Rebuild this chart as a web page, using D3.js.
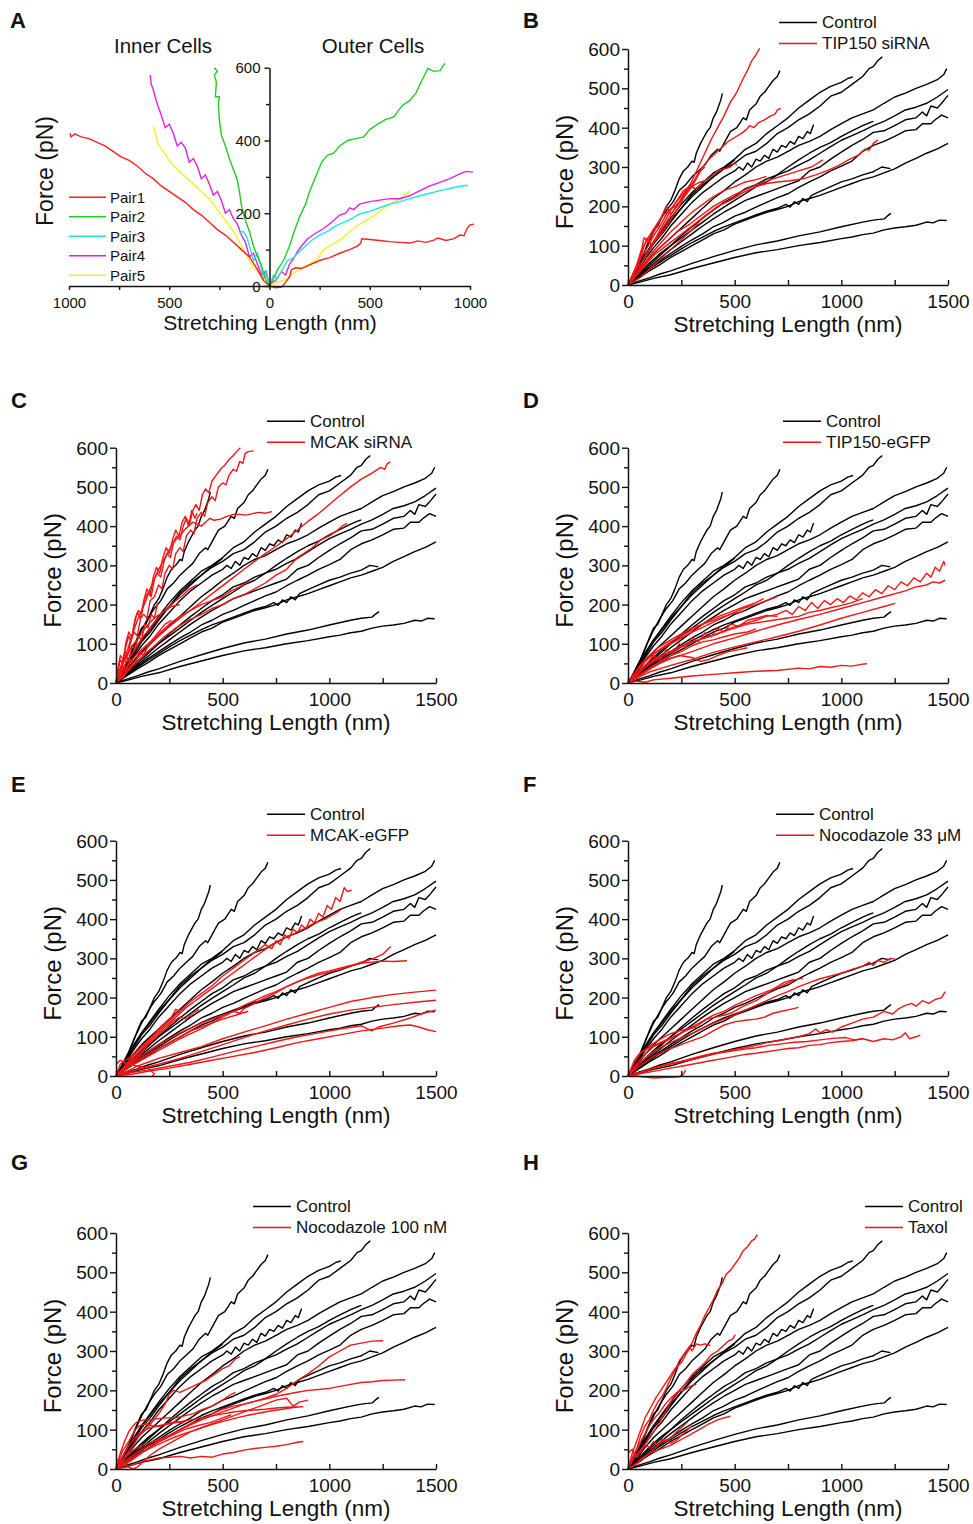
<!DOCTYPE html>
<html><head><meta charset="utf-8">
<script src="https://cdn.jsdelivr.net/npm/d3@7"></script>
<style>
body{margin:0;background:#fff}
svg{display:block}
text{font-family:"Liberation Sans",Arial,Helvetica,sans-serif;fill:#111}
</style>
</head><body>
<svg id="fig" width="973" height="1524"></svg>
<script>
// ---------------- DATA ----------------
const xTickLabels = [0, 500, 1000, 1500];
const xMinorTicks = [250, 750, 1250];
const yTickLabels = [0, 100, 200, 300, 400, 500, 600];
const yMinorTicks = [50, 150, 250, 350, 450, 550];
const aXTicks = [-1000, -500, 0, 500, 1000];
const aXMinor = [-750, -250, 250, 750];
const aYTicks = [0, 200, 400, 600];
const aYMinor = [100, 300, 500];
const pairNames = ["Pair1", "Pair2", "Pair3", "Pair4", "Pair5"];
const treatmentNames = ["TIP150 siRNA", "MCAK siRNA", "TIP150-eGFP", "MCAK-eGFP", "Nocodazole 33 μM", "Nocodazole 100 nM", "Taxol"];

// Panel A: outer cells (right) and inner cells (left), [nm, pN]
const outerPair1 = [[0,0],[30,-5],[60,-3],[80,10],[100,25],[110,45],[130,50],[160,48],[200,58],[250,70],[300,78],[350,90],[400,100],[440,110],[455,118],[460,130],[500,128],[550,125],[600,122],[650,120],[700,118],[740,124],[780,120],[820,126],[840,132],[880,125],[920,130],[950,140],[970,138],[985,158],[1000,168],[1020,170]];
const outerPair2 = [[0,0],[20,20],[40,45],[70,70],[100,110],[120,145],[150,190],[180,225],[200,260],[230,300],[260,340],[290,360],[320,365],[350,385],[390,400],[430,405],[470,410],[500,430],[540,445],[580,458],[620,465],[660,495],[700,510],[730,530],[760,565],[790,598],[820,590],[850,592],[875,612]];
const outerPair3 = [[0,0],[20,30],[40,20],[60,40],[90,70],[120,78],[150,95],[180,110],[210,125],[250,140],[290,150],[330,165],[370,175],[410,185],[450,198],[500,205],[550,215],[600,225],[650,232],[700,240],[750,248],[800,255],[850,262],[900,268],[950,274],[990,277]];
const outerPair4 = [[0,5],[30,15],[60,40],[80,30],[100,60],[120,75],[140,95],[160,110],[190,130],[230,145],[270,158],[310,175],[350,195],[380,200],[400,215],[420,210],[450,225],[500,232],[550,236],[600,240],[650,240],[700,248],[750,262],[800,275],[850,285],[900,295],[950,308],[980,315],[1015,313]];
const outerPair5 = [[0,0],[40,10],[80,18],[120,35],[160,50],[200,60],[240,75],[270,100],[300,110],[330,120],[360,130],[400,150],[450,170],[500,185],[550,205],[600,225],[650,240],[700,260]];
const innerPair1 = [[0,0],[30,15],[60,45],[100,80],[140,100],[180,120],[220,140],[260,155],[300,175],[340,195],[380,210],[420,230],[460,245],[500,260],[540,275],[580,295],[620,310],[660,330],[700,345],[740,355],[780,370],[820,385],[860,395],[900,405],[940,410],[970,418],[990,410],[995,420]];
const innerPair2 = [[0,0],[20,20],[40,55],[60,80],[80,110],[100,150],[120,180],[140,220],[150,260],[160,290],[180,320],[200,350],[220,385],[240,415],[250,455],[255,500],[250,520],[270,520],[265,560],[275,580],[260,590],[275,600]];
const innerPair3 = [[0,0],[15,40],[30,20],[45,60],[60,90],[80,70],[100,110],[110,130],[130,150],[150,145]];
const innerPair4 = [[0,5],[20,40],[40,30],[60,60],[80,90],[100,80],[120,120],[140,140],[160,170],[180,185],[200,210],[220,200],[240,235],[260,260],[280,250],[300,280],[320,305],[340,295],[360,330],[380,350],[400,340],[420,380],[440,395],[460,385],[480,420],[500,445],[520,435],[540,470],[560,500],[570,520],[580,540],[590,555],[595,580]];
const innerPair5 = [[0,0],[20,20],[50,35],[80,50],[110,80],[140,110],[180,150],[220,180],[260,210],[300,240],[340,260],[380,280],[420,300],[460,320],[500,345],[530,370],[555,390],[570,420],[578,438]];

// Control curves (shared by panels B-H)
const ctrl1 = [[0,0],[20,15],[40,40],[60,62],[85,95],[100,115],[120,140],[140,150],[160,175],[180,200],[200,215],[220,240],[240,270],[260,290],[280,300],[300,315],[310,312],[320,335],[340,360],[355,375],[370,390],[385,400],[400,425],[415,440],[425,455],[435,470],[442,487]];
const ctrl2 = [[0,0],[30,25],[60,60],[90,100],[120,135],[150,165],[180,190],[210,210],[240,240],[270,255],[300,275],[330,290],[360,305],[390,330],[420,345],[430,340],[450,360],[480,390],[510,400],[540,425],[555,420],[570,445],[600,460],[620,480],[640,490],[660,505],[680,520],[700,530],[712,545]];
const ctrl3 = [[0,0],[40,30],[80,70],[120,105],[160,130],[200,160],[250,195],[300,225],[350,250],[400,275],[450,295],[500,310],[550,330],[600,340],[650,360],[700,385],[750,400],[800,420],[850,435],[900,455],[950,480],[1000,490],[1050,510],[1100,530],[1130,550],[1150,555],[1170,570],[1192,580]];
const ctrl4 = [[0,0],[40,35],[80,75],[120,110],[160,140],[200,170],[250,205],[300,235],[350,260],[400,285],[450,300],[500,320],[550,345],[600,360],[650,385],[700,405],[750,425],[800,450],[850,470],[900,490],[950,505],[1000,515],[1030,525],[1055,529]];
const ctrl5 = [[0,0],[40,30],[80,65],[120,95],[160,120],[200,150],[250,180],[300,210],[350,235],[400,255],[450,275],[500,290],[520,300],[540,292],[560,310],[580,300],[600,320],[620,315],[640,330],[660,322],[680,345],[700,338],[720,355],[740,350],[760,365],[780,358],[800,378],[820,372],[840,390],[855,385],[870,408]];
const ctrl6 = [[0,0],[40,25],[80,55],[120,80],[160,100],[200,120],[250,145],[300,170],[350,195],[400,220],[450,240],[500,262],[550,280],[600,300],[650,315],[700,325],[750,340],[800,355],[850,365],[900,378],[950,395],[1000,410],[1050,425],[1100,435],[1150,445],[1200,462],[1250,478],[1300,488],[1350,500],[1400,510],[1450,522],[1480,535],[1494,550]];
const ctrl7 = [[0,0],[50,25],[100,50],[150,75],[200,100],[250,125],[300,148],[350,170],[400,190],[450,210],[500,225],[550,245],[600,255],[650,270],[700,280],[750,290],[800,305],[850,318],[900,335],[950,352],[1000,368],[1050,380],[1100,392],[1150,405],[1200,416],[1250,430],[1300,445],[1350,452],[1400,462],[1450,478],[1500,497]];
const ctrl8 = [[0,0],[50,22],[100,45],[150,68],[200,90],[250,110],[300,130],[350,150],[400,168],[450,185],[500,200],[550,215],[600,225],[650,235],[700,245],[750,255],[800,265],[850,290],[900,300],[950,320],[1000,338],[1050,355],[1100,370],[1150,388],[1200,392],[1250,405],[1300,420],[1350,425],[1380,440],[1400,430],[1420,455],[1450,450],[1470,462],[1500,482]];
const ctrl9 = [[0,0],[50,20],[100,42],[150,62],[200,80],[250,98],[300,115],[350,130],[400,148],[450,160],[500,175],[550,185],[600,198],[650,210],[700,222],[750,232],[800,248],[850,262],[900,275],[950,290],[1000,302],[1050,315],[1100,340],[1150,355],[1200,365],[1250,378],[1300,392],[1350,395],[1380,410],[1420,410],[1440,420],[1470,432],[1500,425]];
const ctrl10 = [[0,0],[50,18],[100,36],[150,52],[200,70],[250,85],[300,100],[350,115],[400,130],[450,140],[500,155],[550,165],[600,175],[650,185],[700,192],[750,200],[800,212],[850,220],[900,228],[950,238],[1000,248],[1050,258],[1100,268],[1150,275],[1200,285],[1250,295],[1300,310],[1350,322],[1400,335],[1450,346],[1500,360]];
const ctrl11 = [[0,0],[50,20],[100,40],[150,58],[200,75],[250,92],[300,108],[350,122],[400,136],[450,148],[500,158],[550,168],[600,178],[650,188],[700,195],[740,205],[760,198],[780,212],[800,205],[820,220],[840,212],[860,228],[900,238],[950,250],[1000,262],[1050,270],[1100,280],[1150,288],[1190,300],[1230,296]];
const ctrl12 = [[0,0],[50,10],[100,18],[150,28],[200,36],[300,55],[400,72],[500,88],[600,102],[700,112],[800,125],[900,135],[1000,148],[1100,160],[1150,165],[1200,168],[1215,175],[1233,182]];
const ctrl13 = [[0,0],[60,8],[120,17],[200,26],[300,42],[400,56],[500,70],[600,82],[700,90],[800,100],[900,108],[1000,118],[1050,122],[1100,128],[1150,132],[1200,140],[1250,145],[1300,148],[1350,152],[1400,160],[1430,158],[1460,165],[1494,164]];
const ctrl14 = [[0,0],[30,30],[60,60],[90,85],[120,110],[150,130],[200,165],[250,195],[300,230],[350,255],[400,275],[450,298],[470,305],[500,318]];
const ctrl15 = [[0,0],[50,28],[100,55],[150,80],[200,100],[250,120],[300,140],[350,160],[400,180],[450,198],[500,215],[550,232],[600,250],[650,262],[700,280],[750,300],[800,318],[850,335],[900,350],[950,362],[1000,378],[1050,392],[1100,405],[1130,412],[1150,416]];

// Treatment curves
const redB = [
 [[0,0],[20,15],[40,25],[60,50],[90,80],[120,110],[150,125],[180,150],[210,175],[240,200],[270,230],[300,265],[330,300],[360,335],[390,370],[420,400],[450,430],[480,465],[510,490],[540,525],[560,545],[580,570],[600,585],[617,602]],
 [[0,0],[30,30],[60,55],[100,90],[140,125],[180,160],[220,195],[260,225],[290,250],[310,265],[330,285],[350,300],[380,320],[410,335],[440,350],[470,365],[500,375],[530,385],[555,395],[570,405],[590,400],[610,412],[640,420],[670,430],[690,435],[700,445],[716,449]],
 [[0,0],[30,35],[60,70],[90,95],[120,125],[150,150],[180,180],[210,200],[240,220],[270,240],[300,250],[330,260],[360,265],[390,275],[420,290],[450,295],[480,300],[500,310],[510,305]],
 [[0,0],[40,25],[80,50],[120,75],[180,100],[240,125],[300,150],[360,175],[420,200],[480,215],[540,235],[600,250],[650,258],[700,262],[760,265],[820,270],[880,280],[940,292],[990,305],[1040,320],[1080,330],[1110,345],[1130,343],[1150,360],[1172,369]],
 [[0,0],[40,30],[80,55],[130,85],[180,110],[230,135],[290,155],[350,180],[400,200],[450,215],[500,230],[560,245],[620,258],[680,270],[740,280],[800,290],[860,300],[914,318]],
 [[0,0],[30,20],[70,50],[110,80],[150,105],[200,135],[250,160],[300,185],[350,205],[400,225],[450,240],[500,250],[550,262],[600,268],[648,276]],
 [[0,0],[25,30],[50,55],[70,90],[90,120],[110,100],[140,130],[170,160],[200,190],[230,215],[260,240],[290,250],[320,245],[350,260]],
 [[0,0],[20,20],[45,45],[60,80],[75,120],[95,110],[120,135],[150,165],[180,200],[200,180],[230,200],[260,230],[290,255],[310,245]],
 [[0,0],[30,10],[60,20],[100,40],[150,65],[200,90],[250,115],[300,140],[340,165],[370,180]],
 [[0,0],[20,25],[40,50],[60,85],[80,105],[100,125],[130,150],[160,175],[190,190],[220,200],[250,215],[280,235],[310,260],[340,290],[360,300]]
];
const redC = [
 [[0,0],[15,30],[30,55],[45,80],[55,70],[70,110],[85,130],[100,120],[115,165],[130,175],[145,165],[160,210],[180,220],[200,250],[215,240],[230,280],[250,300],[265,290],[280,330],[300,345],[315,335],[330,375],[350,390],[365,380],[380,420],[400,435],[415,425],[430,460],[450,475],[465,465],[480,500],[500,510],[515,505],[530,530],[550,545],[565,540],[580,565],[595,560],[605,585],[620,590],[645,592]],
 [[0,0],[10,40],[20,70],[35,60],[45,100],[60,130],[75,115],[90,165],[105,185],[120,175],[135,215],[150,230],[165,220],[180,265],[195,280],[210,270],[225,310],[240,330],[255,320],[270,360],[285,375],[300,365],[315,400],[330,420],[345,405],[360,440],[375,455],[390,440],[405,480],[420,495],[435,485],[450,515],[470,530],[490,545],[510,555],[530,570],[550,580],[565,590],[583,600]],
 [[0,0],[10,30],[20,60],[30,50],[45,90],[60,120],[70,105],[85,150],[100,180],[115,165],[130,210],[145,240],[160,225],[175,270],[190,295],[205,280],[220,320],[235,345],[250,330],[265,365],[280,390],[295,375],[310,410],[325,425],[340,400],[355,440],[370,420],[380,433]],
 [[0,0],[20,30],[40,60],[60,95],[80,130],[100,160],[120,185],[140,210],[160,240],[180,265],[200,290],[220,310],[240,330],[260,350],[280,365],[300,375],[320,390],[340,400],[360,410],[380,405],[400,400],[420,410],[440,420],[460,415],[490,418],[520,425],[550,430],[580,430],[610,428],[640,432],[670,435],[700,433],[731,437]],
 [[0,0],[40,25],[80,50],[130,80],[180,110],[240,140],[300,165],[360,190],[420,215],[480,240],[540,265],[600,290],[650,310],[700,330],[750,348],[800,368],[850,390],[900,412],[950,432],[1000,455],[1050,478],[1100,500],[1150,520],[1200,535],[1240,550],[1260,545],[1270,558],[1286,564]],
 [[0,0],[40,20],[80,45],[120,65],[170,90],[220,115],[280,140],[340,160],[400,175],[450,190],[500,200],[550,215],[600,225],[650,240],[700,255],[750,275],[800,290],[850,320],[880,330],[920,345],[960,365],[1000,375],[1040,390],[1060,400],[1083,407]],
 [[0,0],[30,25],[60,50],[100,75],[150,100],[200,125],[250,150],[300,170],[350,185],[400,200],[450,210],[500,220],[540,235],[580,245],[622,259]],
 [[0,0],[20,20],[40,45],[70,70],[100,95],[130,120],[160,140],[190,160],[220,180],[250,195],[280,210],[310,222],[340,238],[380,250]],
 [[0,0],[25,40],[50,70],[75,95],[100,110],[130,135],[160,155],[190,170],[220,180],[260,195],[300,200]],
 [[0,0],[10,25],[20,15],[30,45],[40,35],[50,70],[60,55],[75,95],[90,85],[105,120],[120,110],[135,150],[150,140],[165,175],[180,165],[195,205]],
 [[0,0],[15,20],[30,10],[50,35],[70,60],[90,50],[110,80],[130,70],[150,95],[170,110],[200,130],[230,150],[260,160]]
];
const redD = [
 [[0,0],[40,20],[80,40],[120,55],[180,75],[240,90],[300,105],[360,115],[420,125],[480,140],[540,150],[600,160],[650,170],[700,175],[740,185],[770,175],[800,195],[830,185],[860,205],[890,190],[920,210],[950,200],[980,215],[1010,205],[1040,222],[1070,212],[1100,230],[1130,220],[1160,238],[1190,228],[1220,248],[1250,238],[1280,258],[1310,248],[1340,268],[1370,258],[1400,280],[1420,270],[1440,295],[1460,285],[1480,310],[1487,300]],
 [[0,0],[50,20],[100,35],[150,50],[200,62],[300,80],[400,100],[500,115],[600,132],[700,148],[800,162],[900,175],[1000,190],[1100,205],[1200,220],[1300,235],[1350,245],[1400,250],[1430,258],[1460,255],[1487,262]],
 [[0,0],[50,15],[100,28],[200,45],[300,60],[400,78],[500,92],[600,105],[700,118],[800,132],[900,148],[1000,165],[1100,180],[1200,195],[1253,203]],
 [[0,0],[40,5],[80,2],[120,8],[200,12],[300,18],[400,22],[500,26],[600,30],[700,32],[800,38],[850,36],[900,42],[950,40],[1000,45],[1050,43],[1100,48],[1120,49]],
 [[0,0],[30,25],[60,45],[100,65],[150,85],[200,100],[250,115],[300,130],[350,142],[400,155],[450,168],[500,180],[550,192],[600,200],[650,210],[698,220]],
 [[0,0],[40,30],[80,55],[120,75],[160,90],[200,105],[250,120],[300,135],[350,150],[400,165],[450,175],[500,185],[550,195],[600,205],[636,215]],
 [[0,0],[30,15],[60,35],[90,50],[120,70],[150,60],[180,85],[210,75],[240,100],[270,90],[300,115],[330,105],[360,128],[390,118],[420,140],[450,130],[480,150],[520,145],[560,160],[600,165],[650,172],[700,170]],
 [[0,0],[30,10],[60,20],[100,35],[150,55],[200,70],[250,80],[300,95],[350,105],[400,110],[450,118],[500,125],[560,130],[600,138]],
 [[0,0],[25,20],[50,40],[80,60],[110,75],[140,90],[170,100],[200,110],[250,125],[300,140],[350,150],[400,160],[450,170],[500,178],[540,182]],
 [[0,0],[20,10],[50,30],[80,45],[120,60],[160,70],[200,80],[260,95],[320,108],[380,118],[440,130],[500,140],[560,150],[620,155],[680,160],[740,165],[800,170],[850,180],[900,185],[950,192],[1000,198],[1050,205],[1100,215]],
 [[0,0],[40,15],[80,30],[120,45],[180,60],[240,70],[300,65],[340,55],[380,60],[420,70],[470,80],[520,85],[560,90]]
];
const redE = [
 [[0,0],[40,25],[80,50],[120,75],[160,95],[200,115],[250,140],[300,165],[350,190],[400,210],[450,230],[500,255],[550,275],[600,295],[650,315],[700,335],[730,325],[750,345],[770,335],[790,360],[810,350],[830,375],[850,365],[870,385],[890,375],[910,400],[930,390],[950,415],[970,405],[990,435],[1010,425],[1030,455],[1050,445],[1070,480],[1085,470],[1105,474]],
 [[0,0],[40,20],[80,45],[130,75],[180,100],[230,125],[280,150],[330,175],[380,195],[430,215],[480,235],[530,255],[580,275],[630,295],[680,315],[730,335],[780,350],[830,362],[880,375],[930,390],[980,400],[1020,412],[1052,423]],
 [[0,0],[50,20],[100,35],[150,50],[200,65],[250,80],[300,95],[350,108],[400,120],[450,135],[500,150],[550,165],[600,180],[650,192],[700,205],[750,215],[800,228],[850,240],[900,250],[950,258],[1000,265],[1050,272],[1100,280],[1150,290],[1200,298],[1250,310],[1287,330]],
 [[0,0],[50,25],[100,45],[150,62],[200,80],[250,95],[300,110],[350,122],[400,135],[450,145],[500,155],[550,165],[580,160],[600,172],[650,185],[700,200],[750,212],[800,228],[850,240],[900,252],[950,262],[1000,268],[1050,275],[1100,282],[1150,288],[1200,290],[1250,293],[1300,292],[1364,294]],
 [[0,0],[50,12],[100,25],[150,35],[200,45],[300,60],[400,75],[500,95],[600,112],[700,128],[800,145],[900,160],[1000,175],[1100,190],[1200,200],[1300,208],[1400,214],[1500,219]],
 [[0,0],[60,10],[120,20],[200,30],[300,45],[400,62],[500,80],[600,98],[700,115],[800,130],[900,145],[1000,158],[1100,168],[1200,175],[1300,182],[1400,188],[1500,193]],
 [[0,0],[80,5],[150,12],[250,20],[350,30],[450,40],[550,50],[650,60],[750,72],[850,85],[950,95],[1050,105],[1150,115],[1250,122],[1330,128],[1380,130],[1420,125],[1460,118],[1500,113]],
 [[0,0],[60,8],[150,15],[250,25],[350,35],[450,48],[550,62],[650,75],[750,88],[850,100],[950,110],[1050,120],[1150,128],[1200,115],[1230,125],[1300,135],[1380,148],[1440,160],[1500,168]],
 [[0,0],[30,15],[60,30],[90,45],[120,60],[150,80],[180,95],[210,110],[240,125],[270,140],[300,150],[330,145],[360,160],[390,170]],
 [[0,0],[20,30],[40,40],[60,45],[80,55],[110,70],[140,85],[170,100],[200,120],[230,135],[260,150],[280,170],[300,165]],
 [[0,30],[20,40],[40,35],[60,30],[100,25],[150,20],[180,5],[170,0]],
 [[0,0],[50,20],[100,40],[150,55],[200,70],[250,85],[300,100],[350,115],[400,125],[450,135],[500,145],[560,155],[620,165]]
];
const redF = [
 [[0,0],[40,25],[80,45],[120,62],[160,75],[200,85],[250,98],[300,108],[350,122],[400,135],[450,145],[500,155],[550,168],[600,180],[650,192],[700,205],[750,215],[800,228],[850,238],[900,248],[950,255],[1000,262],[1050,272],[1100,280],[1130,290],[1150,282],[1170,295],[1200,290],[1230,300],[1253,298]],
 [[0,0],[40,30],[80,55],[120,75],[160,85],[200,95],[250,110],[300,125],[350,140],[400,155],[450,165],[500,180],[550,192],[600,205],[650,215],[700,225],[740,235],[780,245],[820,250]],
 [[0,0],[30,35],[60,60],[90,70],[130,80],[170,90],[210,100],[250,110],[290,120],[330,130],[370,145],[410,150],[450,155],[490,162],[530,175],[570,185],[610,195],[650,210],[690,225],[730,238],[777,246]],
 [[0,0],[50,8],[100,15],[150,25],[200,32],[250,38],[300,45],[350,52],[400,58],[450,62],[500,68],[550,72],[600,78],[650,85],[700,90],[750,95],[800,100],[850,108],[880,120],[900,110],[930,118],[960,112],[1000,125],[1050,135],[1100,145],[1150,150],[1200,165],[1240,158],[1270,172],[1300,180],[1330,185],[1350,178],[1380,192],[1410,185],[1440,195],[1470,200],[1487,215]],
 [[0,0],[50,5],[100,10],[150,15],[200,20],[250,25],[300,30],[350,35],[400,40],[450,45],[500,50],[550,55],[600,58],[650,62],[700,66],[750,70],[800,72],[850,78],[900,80],[950,85],[1000,88],[1050,90],[1100,95],[1150,88],[1200,95],[1240,92],[1280,100],[1300,110],[1320,95],[1350,100],[1370,104]],
 [[0,0],[60,10],[120,20],[180,28],[240,35],[300,42],[360,50],[420,58],[480,63],[540,68],[600,72],[660,78],[720,82],[780,86],[840,88],[900,92],[960,96],[1020,98],[1060,92],[1100,95]],
 [[0,0],[40,20],[80,35],[120,50],[160,60],[200,70],[250,80],[300,90],[350,100],[400,115],[450,130],[500,138],[550,142],[600,145],[640,150],[680,160],[720,165],[760,170],[800,175]],
 [[0,5],[40,0],[80,-3],[120,-5],[160,-4],[200,-3],[240,-2],[260,5],[270,15]],
 [[0,0],[30,40],[50,55],[80,65],[110,80],[140,90],[170,100],[200,108],[240,115],[280,120],[320,125]]
];
const redG = [
 [[0,0],[30,20],[60,40],[100,55],[150,65],[200,75],[250,85],[300,100],[350,112],[400,125],[450,140],[500,152],[550,160],[600,165],[650,172],[700,180],[750,190],[800,205],[850,225],[900,242],[950,262],[1000,285],[1050,300],[1100,315],[1150,320],[1200,325],[1253,326]],
 [[0,0],[40,20],[80,35],[120,50],[160,60],[200,70],[250,85],[300,100],[350,115],[400,125],[450,135],[500,145],[550,155],[600,165],[650,172],[700,178],[750,185],[800,190],[850,195],[900,200],[950,202],[1000,205],[1050,210],[1100,215],[1150,220],[1200,222],[1250,225],[1300,226],[1355,227]],
 [[0,0],[50,5],[100,15],[150,22],[200,28],[250,30],[300,32],[350,28],[400,32],[450,30],[500,38],[550,42],[600,48],[650,52],[700,55],[750,58],[800,62],[850,68],[878,70]],
 [[0,0],[40,30],[80,60],[110,85],[140,100],[170,120],[200,140],[230,165],[250,190],[270,200],[300,195],[340,205],[380,215],[420,225],[460,240],[500,255],[530,262],[560,280],[581,286]],
 [[0,0],[40,15],[80,30],[130,45],[180,58],[230,70],[280,82],[330,92],[380,100],[430,110],[480,118],[530,125],[580,132],[630,138],[680,143],[730,148],[780,152],[830,156],[878,159]],
 [[0,0],[30,30],[60,60],[90,80],[120,95],[160,105],[200,110],[250,115],[300,120],[350,125],[400,130],[450,135],[500,140],[550,145],[600,148],[650,150],[700,152],[750,155],[800,157],[850,158]],
 [[0,0],[20,40],[40,70],[60,95],[80,110],[100,120],[130,125],[160,125],[200,128],[240,130],[280,130],[320,135],[360,140],[400,150],[450,160],[500,175],[540,190],[560,195]],
 [[0,25],[20,20],[40,10],[60,5],[80,0],[100,5],[130,20],[160,35],[200,50],[250,65],[300,80],[350,95],[400,105],[450,115],[500,125],[550,135],[600,145],[650,155],[700,165],[750,175],[800,180],[830,160],[860,170],[900,175]],
 [[0,0],[30,45],[60,70],[90,100],[110,110],[140,115],[170,110],[200,108],[240,115],[280,120],[320,118]],
 [[0,0],[40,10],[80,25],[120,40],[160,55],[200,68],[260,85],[320,100],[380,110],[440,118],[500,130],[540,138]]
];
const redH = [
 [[0,0],[20,25],[40,50],[60,85],[80,110],[100,125],[120,150],[140,170],[160,185],[180,205],[200,230],[220,250],[240,275],[260,290],[280,305],[300,320],[320,345],[340,365],[360,390],[380,410],[400,430],[420,455],[440,470],[460,495],[480,505],[500,520],[520,535],[540,555],[560,565],[580,580],[595,585],[605,596]],
 [[0,0],[30,30],[60,50],[90,70],[120,95],[150,120],[180,150],[210,180],[240,200],[260,210],[280,225],[300,240],[330,255],[360,270],[390,290],[420,300],[450,315],[470,325],[490,330],[503,342]],
 [[0,0],[20,40],[40,70],[60,100],[80,130],[100,150],[130,180],[160,205],[190,230],[220,255],[250,270],[270,290],[290,310],[300,300],[320,318],[340,315],[360,318],[386,314]],
 [[0,0],[30,10],[60,25],[100,40],[150,50],[200,60],[250,75],[300,90],[350,105],[380,115],[420,125],[450,130],[480,134]],
 [[0,0],[25,35],[50,60],[75,85],[100,110],[125,130],[150,145],[175,165],[200,180],[230,195],[260,200],[290,210],[320,215]],
 [[0,40],[20,50],[40,30],[60,45],[80,60],[100,55],[120,70],[140,60],[160,75],[180,70],[200,80],[230,95],[260,110],[280,120]],
 [[0,0],[30,10],[60,20],[90,35],[120,50],[150,65],[180,75],[200,65],[220,70],[250,85],[280,100],[300,110]]
];

// ---------------- DRAWING ----------------
const controlCurves = [ctrl1,ctrl2,ctrl3,ctrl4,ctrl5,ctrl6,ctrl7,ctrl8,ctrl9,ctrl10,ctrl11,ctrl12,ctrl13,ctrl14,ctrl15];
const RED = "#ee1616";
const svg = d3.select("#fig");

function styleAxis(g, fs) {
  g.attr("font-family", null).attr("font-size", null);
  g.selectAll(".domain").attr("stroke", "#111").attr("stroke-width", 1.5);
  g.selectAll(".tick line").attr("stroke", "#111").attr("stroke-width", 1.4);
  g.selectAll(".tick text").style("font-size", fs + "px").attr("fill", "#111");
}

function letter(t, x, y) {
  svg.append("text").attr("x", x).attr("y", y).text(t)
    .style("font-size", "22px").style("font-weight", "bold").attr("fill", "#000");
}

function drawPanel(p) {
  const x = d3.scaleLinear().domain([0, 1500]).range([p.x0, p.x1]);
  const y = d3.scaleLinear().domain([0, 600]).range([p.y0, p.y1]);
  const g = svg.append("g");
  const line = d3.line().x(d => x(d[0])).y(d => y(d[1]));

  g.append("g").selectAll("path").data(controlCurves).join("path")
    .attr("d", line).attr("fill", "none").attr("stroke", "#000")
    .attr("stroke-width", 1.4).attr("stroke-linejoin", "round");
  g.append("g").selectAll("path").data(p.reds).join("path")
    .attr("d", line).attr("fill", "none").attr("stroke", RED)
    .attr("stroke-width", 1.4).attr("stroke-linejoin", "round");

  // axes
  const ya = g.append("g").attr("transform", `translate(${p.x0},0)`)
    .call(d3.axisLeft(y).tickValues(yTickLabels).tickSizeInner(6).tickSizeOuter(0).tickPadding(2).tickFormat(d3.format("d")));
  styleAxis(ya, 19);
  ya.selectAll(".tick text").attr("dy", "0.34em");
  const yam = g.append("g").attr("transform", `translate(${p.x0},0)`)
    .call(d3.axisLeft(y).tickValues(yMinorTicks).tickSize(4).tickFormat(""));
  styleAxis(yam, 19); yam.select(".domain").remove();

  const xa = g.append("g").attr("transform", `translate(0,${p.y0})`)
    .call(d3.axisBottom(x).tickValues(xTickLabels).tickSizeInner(-5).tickSizeOuter(0).tickPadding(10).tickFormat(d3.format("d")));
  styleAxis(xa, 19);
  const xam = g.append("g").attr("transform", `translate(0,${p.y0})`)
    .call(d3.axisBottom(x).tickValues(xMinorTicks).tickSize(-5).tickFormat(""));
  styleAxis(xam, 19); xam.select(".domain").remove();

  g.append("text").attr("x", (p.x0 + p.x1) / 2).attr("y", p.y0 + 47)
    .attr("text-anchor", "middle").style("font-size", "22.5px").text("Stretching Length (nm)");
  g.append("text").attr("transform", `translate(${p.x0 - 55},${(p.y0 + p.y1) / 2 + 5}) rotate(-90)`)
    .attr("text-anchor", "middle").style("font-size", "24px").text("Force (pN)");

  // legend
  const lg = [["Control", "#000"], [p.name, RED]];
  lg.forEach((d, i) => {
    const ly = p.y1 - 26.5 + i * 21;
    g.append("line").attr("x1", p.lx).attr("x2", p.lx + 38).attr("y1", ly).attr("y2", ly)
      .attr("stroke", d[1]).attr("stroke-width", 1.5);
    g.append("text").attr("x", p.lx + 43).attr("y", ly).attr("dy", "0.35em")
      .style("font-size", "17px").text(d[0]);
  });
  letter(p.letter, p.letterX, p.letterY);
}

// Panel A
(function () {
  const y0 = 286, y1 = 67.7;
  const x = d3.scaleLinear().domain([-1000, 1000]).range([69, 470]);
  const y = d3.scaleLinear().domain([0, 600]).range([y0, y1]);
  const g = svg.append("g");
  const colors = ["#ff2020", "#22cc22", "#22e6e6", "#e022e0", "#f2f222"];
  const outer = [outerPair1, outerPair2, outerPair3, outerPair4, outerPair5];
  const inner = [innerPair1, innerPair2, innerPair3, innerPair4, innerPair5];
  const lineR = d3.line().x(d => x(d[0])).y(d => y(d[1]));
  const lineL = d3.line().x(d => x(-d[0])).y(d => y(d[1]));
  [4, 3, 2, 1, 0].forEach(i => {
    g.append("path").attr("d", lineL(inner[i])).attr("fill", "none").attr("stroke", colors[i]).attr("stroke-width", 1.4);
    g.append("path").attr("d", lineR(outer[i])).attr("fill", "none").attr("stroke", colors[i]).attr("stroke-width", 1.4);
  });
  const ya = g.append("g").attr("transform", `translate(${x(0)},0)`)
    .call(d3.axisLeft(y).tickValues(aYTicks).tickSizeInner(5).tickSizeOuter(0).tickPadding(4));
  styleAxis(ya, 15); ya.selectAll(".tick text").attr("dy", "0.34em");
  const yam = g.append("g").attr("transform", `translate(${x(0)},0)`)
    .call(d3.axisLeft(y).tickValues(aYMinor).tickSize(3.5).tickFormat(""));
  styleAxis(yam, 15); yam.select(".domain").remove();
  const xa = g.append("g").attr("transform", `translate(0,${y0})`)
    .call(d3.axisBottom(x).tickValues(aXTicks).tickSizeInner(4).tickSizeOuter(0).tickPadding(7).tickFormat(d => Math.abs(d)));
  styleAxis(xa, 15);
  const xam = g.append("g").attr("transform", `translate(0,${y0})`)
    .call(d3.axisBottom(x).tickValues(aXMinor).tickSize(4).tickFormat(""));
  styleAxis(xam, 15); xam.select(".domain").remove();

  g.append("text").attr("x", 270).attr("y", 330).attr("text-anchor", "middle")
    .style("font-size", "21px").text("Stretching Length (nm)");
  g.append("text").attr("transform", "translate(53,171) rotate(-90)").attr("text-anchor", "middle")
    .style("font-size", "23px").text("Force (pN)");
  g.append("text").attr("x", 163).attr("y", 53).attr("text-anchor", "middle")
    .style("font-size", "20.5px").text("Inner Cells");
  g.append("text").attr("x", 373).attr("y", 53).attr("text-anchor", "middle")
    .style("font-size", "20.5px").text("Outer Cells");
  pairNames.forEach((n, i) => {
    const ly = 197.3 + i * 19.5;
    g.append("line").attr("x1", 69).attr("x2", 106).attr("y1", ly).attr("y2", ly)
      .attr("stroke", colors[i]).attr("stroke-width", 1.5);
    g.append("text").attr("x", 110).attr("y", ly).attr("dy", "0.35em")
      .style("font-size", "15px").text(n);
  });
  letter("A", 10, 28);
})();

const panels = [
  {letter: "B", letterX: 523, letterY: 28, x0: 628, x1: 948, y0: 285, y1: 49, lx: 779, name: treatmentNames[0], reds: redB},
  {letter: "C", letterX: 11, letterY: 408, x0: 116, x1: 436, y0: 683, y1: 447.7, lx: 267, name: treatmentNames[1], reds: redC},
  {letter: "D", letterX: 523, letterY: 408, x0: 628, x1: 948, y0: 683, y1: 447.7, lx: 783, name: treatmentNames[2], reds: redD},
  {letter: "E", letterX: 11, letterY: 792, x0: 116, x1: 436, y0: 1076, y1: 840.7, lx: 267, name: treatmentNames[3], reds: redE},
  {letter: "F", letterX: 523, letterY: 792, x0: 628, x1: 948, y0: 1076, y1: 840.7, lx: 776, name: treatmentNames[4], reds: redF},
  {letter: "G", letterX: 11, letterY: 1170, x0: 116, x1: 436, y0: 1469, y1: 1233, lx: 253, name: treatmentNames[5], reds: redG},
  {letter: "H", letterX: 523, letterY: 1170, x0: 628, x1: 948, y0: 1469, y1: 1233, lx: 865, name: treatmentNames[6], reds: redH}
];
panels.forEach(drawPanel);
</script>
</body></html>
